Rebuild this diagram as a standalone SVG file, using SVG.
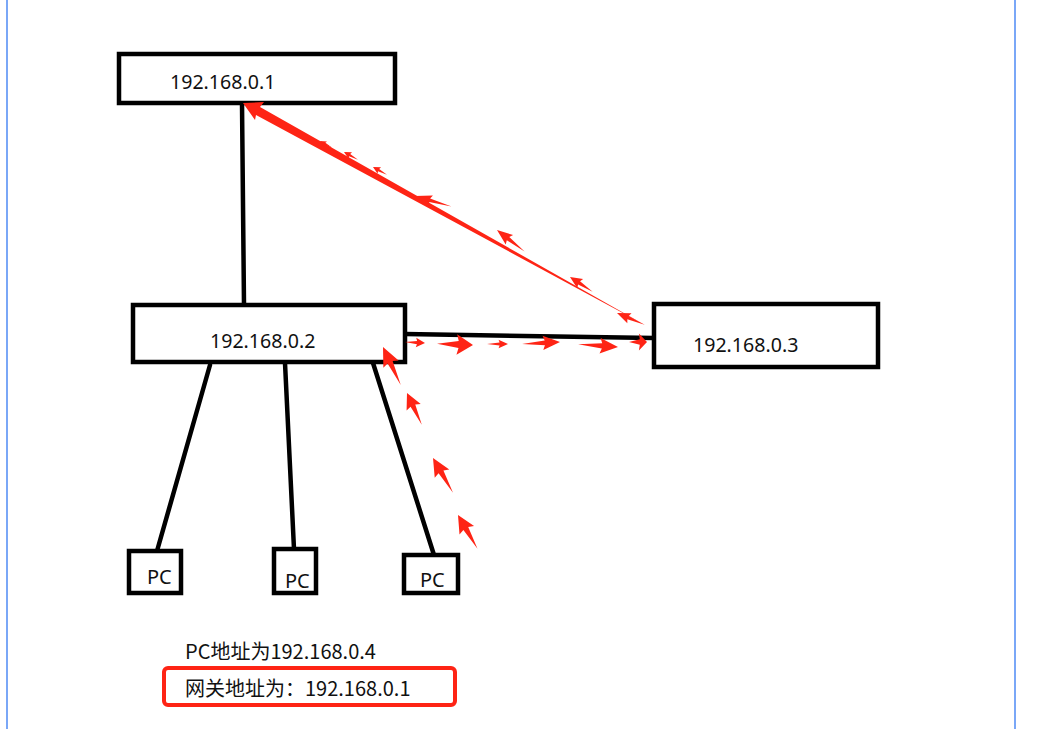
<svg xmlns="http://www.w3.org/2000/svg" xmlns:xlink="http://www.w3.org/1999/xlink" width="1045" height="729" viewBox="0 0 1045 729">
<style>
.box{fill:#fff;stroke:#000;stroke-width:4.5}
.lnk{stroke:#000;stroke-width:4.5;fill:none;stroke-linecap:round}
.lbl{font-family:"Noto Sans","Noto Sans CJK SC",sans-serif;font-size:19.6px;fill:#111}
.pc{font-family:"Noto Sans","Noto Sans CJK SC",sans-serif;font-size:20px;fill:#111}
.note{font-family:"Noto Sans CJK SC","Noto Sans",sans-serif;font-size:20px;fill:#111}
.red{fill:#fe2415}
</style>
<defs>
<path id="dart" d="M0 0 L-9 -6 L-8 -2 L-20 0 L-8 2 L-9 6 Z"/>
</defs>
<rect width="1045" height="729" fill="#fff"/>
<line x1="7" y1="0" x2="7" y2="729" stroke="#7aa7f7" stroke-width="2"/>
<line x1="1015" y1="0" x2="1015" y2="729" stroke="#7aa7f7" stroke-width="2"/>

<g id="connectors">
<line class="lnk" x1="242" y1="103" x2="244" y2="305"/>
<line class="lnk" x1="405" y1="334" x2="654" y2="338"/>
<line class="lnk" x1="210" y1="365" x2="157" y2="551"/>
<line class="lnk" x1="285" y1="363" x2="294" y2="549"/>
<line class="lnk" x1="373" y1="363" x2="434" y2="555"/>
</g>

<g id="node-192-168-0-1">
<rect class="box" x="119" y="54" width="276" height="49"/>
<text class="lbl" x="170" y="89">192.168.0.1</text>
</g>
<g id="node-192-168-0-2">
<rect class="box" x="133" y="305" width="272" height="57"/>
<text class="lbl" x="210" y="348">192.168.0.2</text>
</g>
<g id="node-192-168-0-3">
<rect class="box" x="654" y="304" width="224" height="63"/>
<text class="lbl" x="693" y="352">192.168.0.3</text>
</g>
<g id="node-pc1">
<rect class="box" x="129" y="551" width="52" height="42"/>
<text class="pc" x="147" y="584">PC</text>
</g>
<g id="node-pc2">
<rect class="box" x="274" y="549" width="42" height="44"/>
<text class="pc" x="285" y="588">PC</text>
</g>
<g id="node-pc3">
<rect class="box" x="404" y="555" width="54" height="38"/>
<text class="pc" x="420" y="587">PC</text>
</g>

<g id="red-arrows" class="red">
<polygon points="243,103 264,102 260,107 645,325 256,115 255,120"/>
<use xlink:href="#dart" transform="translate(320,141) rotate(208.9) scale(0.7,0.5)"/>
<use xlink:href="#dart" transform="translate(344,152) rotate(208.9) scale(0.8,0.6)"/>
<use xlink:href="#dart" transform="translate(373,167) rotate(208.9) scale(0.8,0.6)"/>
<use xlink:href="#dart" transform="translate(415,196) rotate(196) scale(1.9,0.9)"/>
<use xlink:href="#dart" transform="translate(497,230) rotate(218) scale(1.75,1)"/>
<use xlink:href="#dart" transform="translate(570,277) rotate(213) scale(1.35,0.9)"/>
<use xlink:href="#dart" transform="translate(617,313) rotate(203) scale(1.5,0.9)"/>

<use xlink:href="#dart" transform="translate(425,343) rotate(3) scale(1,0.8)"/>
<use xlink:href="#dart" transform="translate(473,345) rotate(2) scale(1.8,1.7)"/>
<use xlink:href="#dart" transform="translate(508,344) scale(1.05,0.7)"/>
<use xlink:href="#dart" transform="translate(560,342) rotate(-3) scale(1.9,1.2)"/>
<use xlink:href="#dart" transform="translate(618,347) rotate(4) scale(2,1.3)"/>
<use xlink:href="#dart" transform="translate(647,342) scale(0.9,1.4)"/>

<use xlink:href="#dart" transform="translate(383,347) rotate(245) scale(2.1,1.4)"/>
<use xlink:href="#dart" transform="translate(407,393) rotate(245) scale(1.75,1.3)"/>
<use xlink:href="#dart" transform="translate(433,458) rotate(240) scale(2,1.4)"/>
<use xlink:href="#dart" transform="translate(458,515) rotate(240) scale(1.95,1.4)"/>
</g>

<g id="notes">
<text class="note" x="185" y="659">PC地址为192.168.0.4</text>
<rect x="164" y="668" width="291" height="37" rx="4" fill="none" stroke="#fe2415" stroke-width="4"/>
<text class="note" x="185" y="696">网关地址为：192.168.0.1</text>
</g>
</svg>
